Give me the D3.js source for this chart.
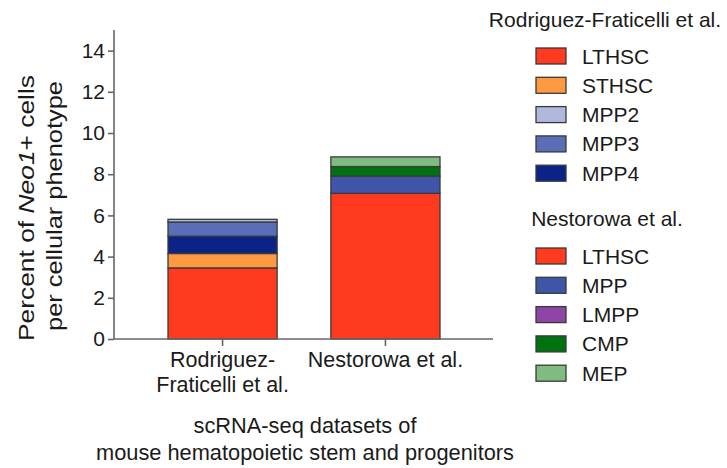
<!DOCTYPE html>
<html><head><meta charset="utf-8">
<script src="https://cdn.jsdelivr.net/npm/d3@7"></script>
<style>body{margin:0;background:#fff}svg{display:block}text{font-family:"Liberation Sans",Arial,sans-serif;fill:#1a1a1a}</style>
</head><body>
<script>
const datasets = ["Rodriguez-Fraticelli et al.", "Nestorowa et al."];
const datasetLabelLines = [["Rodriguez-", "Fraticelli et al."], ["Nestorowa et al."]];
const rfCategories = ["LTHSC", "STHSC", "MPP2", "MPP3", "MPP4"];
const rfColors = ["#ff3a1e", "#ff9a42", "#b1b7dd", "#5a6db6", "#0b2288"];
const rfStackOrder = ["LTHSC", "STHSC", "MPP4", "MPP3", "MPP2"];
const rfValues = [3.45, 0.70, 0.13, 0.69, 0.84];
const nsCategories = ["LTHSC", "MPP", "LMPP", "CMP", "MEP"];
const nsColors = ["#ff3a1e", "#3f55a8", "#8e45a6", "#007210", "#80bb82"];
const nsStackOrder = ["LTHSC", "MPP", "LMPP", "CMP", "MEP"];
const nsValues = [7.07, 0.84, 0.0, 0.46, 0.47];
const yTicks = [0, 2, 4, 6, 8, 10, 12, 14];

const W = 727, H = 468;
const svg = d3.select("body").append("svg").attr("width", W).attr("height", H);
const x = d3.scaleBand().domain(datasets).range([168, 440]).paddingInner(0.33).paddingOuter(0);
const y = d3.scaleLinear().domain([0, 15]).range([339, 30]);

function stack(cats, vals, order, colors, ds) {
  let acc = 0;
  const out = [];
  order.forEach(c => {
    const i = cats.indexOf(c);
    const v = vals[i];
    out.push({ds, cat: c, y0: acc, y1: acc + v, color: colors[i]});
    acc += v;
  });
  return out;
}
const segs = stack(rfCategories, rfValues, rfStackOrder, rfColors, datasets[0])
  .concat(stack(nsCategories, nsValues, nsStackOrder, nsColors, datasets[1]));
svg.append("g").selectAll("rect").data(segs.filter(d => d.y1 > d.y0)).join("rect")
  .attr("x", d => x(d.ds))
  .attr("width", x.bandwidth())
  .attr("y", d => y(d.y1))
  .attr("height", d => y(d.y0) - y(d.y1))
  .attr("fill", d => d.color)
  .attr("stroke", "#3a3a3a").attr("stroke-width", 1.3);

// Y axis
const yAxis = svg.append("g").attr("transform", "translate(114,0)")
  .call(d3.axisLeft(y).tickValues(yTicks).tickSize(6).tickPadding(3));
yAxis.select(".domain").attr("d", "M0," + y(15) + "V" + y(0));
// X axis
const xAxis = svg.append("g").attr("transform", "translate(0," + y(0) + ")")
  .call(d3.axisBottom(x).tickSize(7).tickFormat(""));
xAxis.select(".domain").attr("d", "M114,0H493");
svg.selectAll(".domain, .tick line").attr("stroke", "#666").attr("stroke-width", 1.6);
yAxis.selectAll(".tick text").attr("font-size", 21).attr("fill", "#1a1a1a")
  .attr("font-family", "Liberation Sans, Arial, sans-serif");

// x category labels
datasets.forEach((ds, i) => {
  const cx = x(ds) + x.bandwidth() / 2;
  datasetLabelLines[i].forEach((ln, j) => {
    svg.append("text").attr("x", cx).attr("y", 367 + j * 25).attr("text-anchor", "middle")
      .attr("font-size", 21.5).text(ln);
  });
});

// X axis title
svg.append("text").attr("x", 305).attr("y", 433).attr("text-anchor", "middle").attr("font-size", 21.8).text("scRNA-seq datasets of");
svg.append("text").attr("x", 305).attr("y", 460).attr("text-anchor", "middle").attr("font-size", 21.8).text("mouse hematopoietic stem and progenitors");

// Y axis title
const yt = svg.append("g").attr("transform", "translate(0,208) rotate(-90)");
const t1 = yt.append("text").attr("x", 0).attr("y", 34).attr("text-anchor", "middle").attr("font-size", 21.5)
  .attr("textLength", 266).attr("lengthAdjust", "spacingAndGlyphs");
t1.append("tspan").text("Percent of ");
t1.append("tspan").attr("font-style", "italic").text("Neo1");
t1.append("tspan").text("+ cells");
yt.append("text").attr("x", 2).attr("y", 62).attr("text-anchor", "middle").attr("font-size", 21.5)
  .attr("textLength", 250).attr("lengthAdjust", "spacingAndGlyphs").text("per cellular phenotype");

// Legends
function legend(title, titleX, titleY, cats, colors, y0) {
  svg.append("text").attr("x", titleX).attr("y", titleY).attr("text-anchor", "middle").attr("font-size", 21).text(title);
  const g = svg.append("g");
  cats.forEach((c, i) => {
    const cy = y0 + i * 29.3;
    g.append("rect").attr("x", 536).attr("y", cy - 8).attr("width", 30).attr("height", 16)
      .attr("fill", colors[i]).attr("stroke", "#3a3a3a").attr("stroke-width", 1.3);
    g.append("text").attr("x", 582).attr("y", cy + 7.5).attr("font-size", 21).text(c);
  });
}
legend(datasets[0], 605, 27, rfCategories, rfColors, 56);
legend(datasets[1], 607, 226, nsCategories, nsColors, 256);
</script>
</body></html>
